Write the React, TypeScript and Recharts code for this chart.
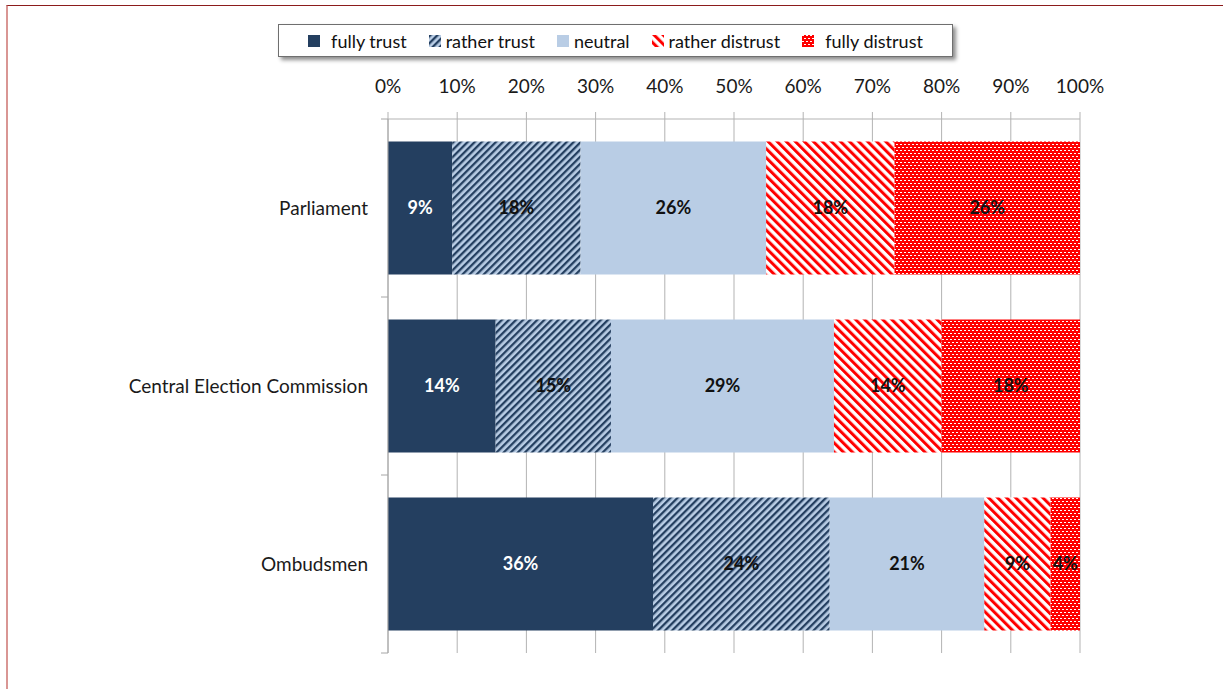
import React from "react";
import { BarChart, Bar, XAxis, YAxis, CartesianGrid, LabelList } from "recharts";

// survey answers, in % of respondents (bars are stretched to 100%)
const institutions = ["Parliament", "Central Election Commission", "Ombudsmen"];
const fullyTrust = [9, 14, 36];
const ratherTrust = [18, 15, 24];
const neutral = [26, 29, 21];
const ratherDistrust = [18, 14, 9];
const fullyDistrust = [26, 18, 4];

const seriesNames = ["fully trust", "rather trust", "neutral", "rather distrust", "fully distrust"];
const percentTicks = [0, 0.1, 0.2, 0.3, 0.4, 0.5, 0.6, 0.7, 0.8, 0.9, 1];

const rows = institutions.map((name, i) => ({
  name,
  fullyTrust: fullyTrust[i],
  ratherTrust: ratherTrust[i],
  neutral: neutral[i],
  ratherDistrust: ratherDistrust[i],
  fullyDistrust: fullyDistrust[i],
}));

const NAVY = "#243f60";
const LIGHT_BLUE = "#b9cde5";
const RED = "#ff0000";
const GRID = "#b3b3b3";
const AXIS = "#a6a6a6";
const FONT = "Lato, 'Open Sans', sans-serif";

const W = 1223;
const H = 689;
const MARGIN = { top: 79, right: 143, bottom: 36, left: 0 };
const X_AXIS_H = 40;
const Y_AXIS_W = 388;
// height of one category band, used for the tick marks between categories
const BAND = (H - MARGIN.top - MARGIN.bottom - X_AXIS_H) / institutions.length;

const series = [
  { key: "fullyTrust", fill: NAVY, labelColor: "#ffffff" },
  { key: "ratherTrust", fill: "url(#hatchTrust)", labelColor: "#111111" },
  { key: "neutral", fill: LIGHT_BLUE, labelColor: "#111111" },
  { key: "ratherDistrust", fill: "url(#hatchDistrust)", labelColor: "#111111" },
  { key: "fullyDistrust", fill: "url(#dotsDistrust)", labelColor: "#111111" },
];

function Patterns() {
  return (
    <defs>
      <pattern id="hatchTrust" patternUnits="userSpaceOnUse" width="5" height="5" patternTransform="rotate(45)">
        <rect width="5" height="5" fill={LIGHT_BLUE} />
        <rect width="2.3" height="5" fill={NAVY} />
      </pattern>
      <pattern id="hatchDistrust" patternUnits="userSpaceOnUse" width="6.4" height="6.4" patternTransform="rotate(-45)">
        <rect width="6.4" height="6.4" fill="#ffffff" />
        <rect width="3" height="6.4" fill={RED} />
      </pattern>
      <pattern id="dotsDistrust" patternUnits="userSpaceOnUse" width="4" height="6">
        <rect width="4" height="6" fill={RED} shapeRendering="crispEdges" />
        <rect x="0" y="0" width="2" height="1" fill="#ffffff" shapeRendering="crispEdges" />
        <rect x="2" y="3" width="2" height="1" fill="#ffffff" shapeRendering="crispEdges" />
      </pattern>
    </defs>
  );
}

function CategoryTick(props: any) {
  const { x, y, payload, index } = props;
  return (
    <g>
      <line x1={x - 7} x2={x} y1={y - BAND / 2} y2={y - BAND / 2} stroke={AXIS} />
      {index === institutions.length - 1 && (
        <line x1={x - 7} x2={x} y1={y + BAND / 2} y2={y + BAND / 2} stroke={AXIS} />
      )}
      <text x={x - 20} y={y} dy="0.35em" textAnchor="end" fill="#1a1a1a" fontSize={19}>
        {payload.value}
      </text>
    </g>
  );
}

function LegendBox() {
  return (
    <div
      style={{
        position: "absolute",
        left: 278,
        top: 24,
        width: 675,
        height: 33,
        border: "1px solid #6f6f6f",
        background: "#fff",
        boxShadow: "3px 3px 4px rgba(0,0,0,0.45)",
        display: "flex",
        alignItems: "center",
        justifyContent: "center",
        gap: 22,
        fontFamily: FONT,
        fontSize: 18,
        color: "#111",
        boxSizing: "border-box",
      }}
    >
      {seriesNames.map((name, i) => (
        <div key={name} style={{ display: "flex", alignItems: "center" }}>
          <svg width={12} height={12} style={{ marginRight: i === 0 || i === 4 ? 11 : 5 }}>
            <rect width={12} height={12} fill={series[i].fill} />
          </svg>
          <span>{name}</span>
        </div>
      ))}
    </div>
  );
}

export default function App() {
  return (
    <div style={{ position: "absolute", left: 0, top: 0, width: W, height: H, background: "#fff", fontFamily: FONT }}>
      <div
        style={{
          position: "absolute",
          left: 6,
          top: 5,
          width: W - 6,
          height: H - 5,
          borderTop: "1px solid #8c1c1c",
          borderLeft: "2px solid #d99694",
          boxSizing: "border-box",
        }}
      />
      <BarChart
        width={W}
        height={H}
        data={rows}
        layout="vertical"
        stackOffset="expand"
        barCategoryGap="12.6%"
        margin={MARGIN}
      >
        <Patterns />
        <CartesianGrid horizontal={false} stroke={GRID} />
        <XAxis
          type="number"
          orientation="top"
          domain={[0, 1]}
          ticks={percentTicks}
          tickFormatter={(v: number) => `${Math.round(v * 100)}%`}
          height={X_AXIS_H}
          tickSize={7}
          tickMargin={19}
          axisLine={{ stroke: GRID }}
          tickLine={{ stroke: GRID }}
          tick={{ fill: "#1a1a1a", fontSize: 19 }}
          interval={0}
        />
        <YAxis
          type="category"
          dataKey="name"
          width={Y_AXIS_W}
          tickLine={false}
          tickSize={0}
          tickMargin={0}
          axisLine={{ stroke: AXIS }}
          tick={<CategoryTick />}
        />
        {series.map((s, i) => (
          <Bar
            key={s.key}
            dataKey={s.key}
            name={seriesNames[i]}
            stackId="trust"
            fill={s.fill}
            isAnimationActive={false}
          >
            <LabelList
              dataKey={s.key}
              position="center"
              formatter={(v: number) => `${v}%`}
              fill={s.labelColor}
              fontSize={18}
              fontWeight="bold"
            />
          </Bar>
        ))}
      </BarChart>
      <LegendBox />
    </div>
  );
}
